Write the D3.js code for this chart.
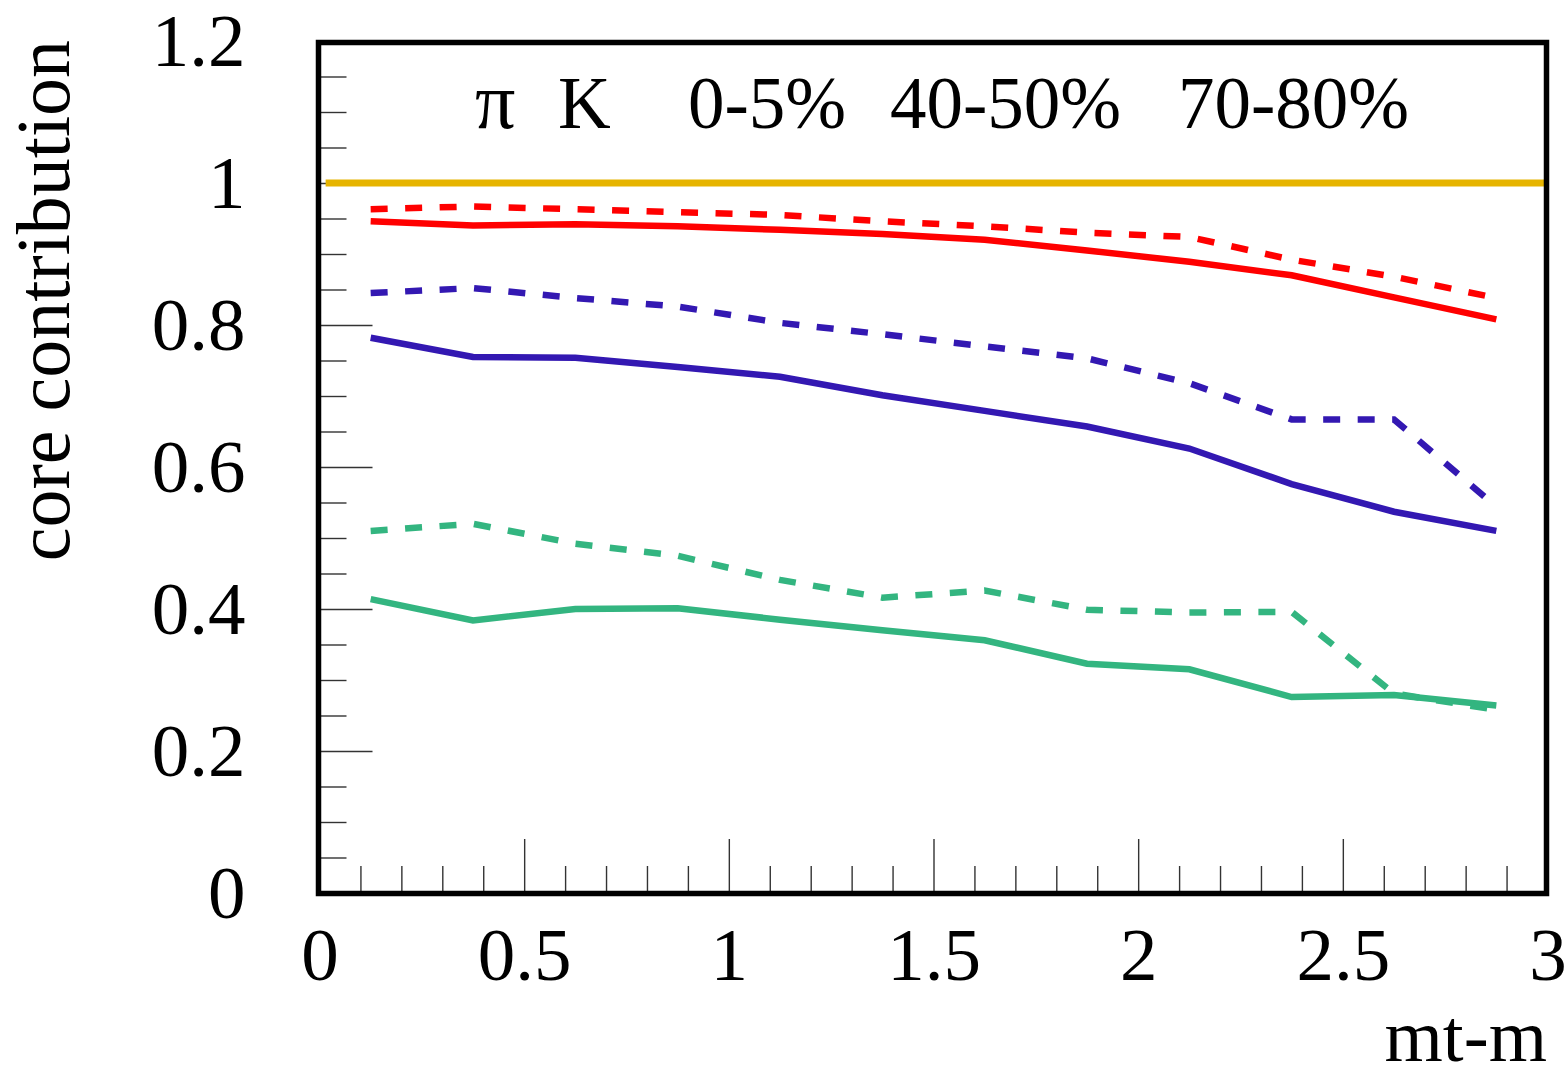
<!DOCTYPE html>
<html>
<head>
<meta charset="utf-8">
<script src="https://cdn.jsdelivr.net/npm/d3@7"></script>
<style>
  body { margin: 0; background: #fff; }
  svg { display: block; font-family: "Liberation Serif", "Times New Roman", serif; }
</style>
</head>
<body>
<div class="chart"></div>
<script>
"use strict";

// bin centres in mt-m
const mtm = [0.125, 0.375, 0.625, 0.875, 1.125, 1.375, 1.625, 1.875, 2.125, 2.375, 2.625, 2.875];

// solid = pi, dashed = K
const central = [0.946, 0.940, 0.942, 0.939, 0.934, 0.928, 0.920, 0.905, 0.889, 0.870, 0.839, 0.808];
const centralK = [0.963, 0.967, 0.963, 0.959, 0.955, 0.946, 0.939, 0.930, 0.924, 0.892, 0.868, 0.838];
const midCentral = [0.782, 0.755, 0.754, 0.741, 0.727, 0.701, 0.679, 0.657, 0.626, 0.576, 0.537, 0.510];
const midCentralK = [0.845, 0.852, 0.838, 0.826, 0.803, 0.787, 0.770, 0.753, 0.718, 0.667, 0.667, 0.544];
const peripheral = [0.414, 0.384, 0.400, 0.401, 0.385, 0.370, 0.356, 0.323, 0.315, 0.276, 0.279, 0.264];
const peripheralK = [0.510, 0.520, 0.492, 0.475, 0.441, 0.416, 0.426, 0.399, 0.395, 0.396, 0.281, 0.258];

// reference line at 1
const refY = 1;
const refX = [0.015, 3];

const xMajor = [0, 0.5, 1, 1.5, 2, 2.5, 3];
const yMajor = [0, 0.2, 0.4, 0.6, 0.8, 1, 1.2];

const titleParts = ["π", "K", "0-5%", "40-50%", "70-80%"];
const titleX = [475, 558, 688, 890, 1178];

const series = [
  { values: central, color: "#ff0000", dashed: false },
  { values: centralK, color: "#ff0000", dashed: true },
  { values: midCentral, color: "#3318b2", dashed: false },
  { values: midCentralK, color: "#3318b2", dashed: true },
  { values: peripheral, color: "#33b580", dashed: false },
  { values: peripheralK, color: "#33b580", dashed: true },
];

const width = 1567;
const height = 1077;

const svg = d3
  .select(".chart")
  .append("svg")
  .attr("width", width)
  .attr("height", height);

const x = d3.scaleLinear().domain([0, 3]).range([319.5, 1547.5]);
const y = d3.scaleLinear().domain([0, 1.2]).range([893, 41]);

const onGrid = (v, step) => Math.abs(v / step - Math.round(v / step)) < 1e-6;
const xMinor = d3.range(0, 3.0001, 0.1).filter((v) => !onGrid(v, 0.5));
const yMinor = d3.range(0, 1.2001, 0.05).filter((v) => !onGrid(v, 0.2));

// minor ticks first
svg
  .append("g")
  .attr("transform", `translate(0, ${y(0)})`)
  .call(d3.axisBottom(x).tickValues(xMinor).tickSizeInner(-27).tickSizeOuter(0).tickFormat(""))
  .call((g) => g.select(".domain").remove());

svg
  .append("g")
  .attr("transform", `translate(${x(0)}, 0)`)
  .call(d3.axisLeft(y).tickValues(yMinor).tickSizeInner(-27).tickSizeOuter(0).tickFormat(""))
  .call((g) => g.select(".domain").remove());

// major ticks and labels
svg
  .append("g")
  .attr("transform", `translate(0, ${y(0)})`)
  .call(
    d3.axisBottom(x).tickValues(xMajor).tickSizeInner(-54).tickSizeOuter(0).tickPadding(34).tickFormat(d3.format("~g"))
  )
  .call((g) => g.select(".domain").remove());

svg
  .append("g")
  .attr("transform", `translate(${x(0)}, 0)`)
  .call(
    d3.axisLeft(y).tickValues(yMajor).tickSizeInner(-53).tickSizeOuter(0).tickPadding(74).tickFormat(d3.format("~g"))
  )
  .call((g) => g.select(".domain").remove());

svg.selectAll(".tick line").attr("stroke", "#333").attr("stroke-width", 1.4);
svg
  .selectAll(".tick text")
  .attr("font-family", "Liberation Serif, serif")
  .attr("font-size", 75)
  .attr("fill", "#000");

// reference line
svg
  .append("line")
  .attr("x1", x(refX[0]))
  .attr("x2", x(refX[1]))
  .attr("y1", y(refY))
  .attr("y2", y(refY))
  .attr("stroke", "#e6b400")
  .attr("stroke-width", 7);

const line = d3
  .line()
  .x((d, i) => x(mtm[i]))
  .y((d) => y(d));

svg
  .append("g")
  .selectAll("path")
  .data(series)
  .join("path")
  .attr("fill", "none")
  .attr("stroke", (d) => d.color)
  .attr("stroke-width", 6.5)
  .attr("stroke-dasharray", (d) => (d.dashed ? "17,17.5" : null))
  .attr("d", (d) => line(d.values));

// frame
svg
  .append("rect")
  .attr("x", x(0) - 1)
  .attr("y", y(1.2) + 1.5)
  .attr("width", x(3) - x(0))
  .attr("height", y(0) - y(1.2) - 1)
  .attr("fill", "none")
  .attr("stroke", "#000")
  .attr("stroke-width", 5.5);

// title
svg
  .append("g")
  .attr("font-size", 73)
  .selectAll("text")
  .data(titleParts)
  .join("text")
  .attr("x", (d, i) => titleX[i])
  .attr("y", 128)
  .attr("font-size", (d, i) => (i === 0 ? 80 : null))
  .text((d) => d);

// axis titles
svg
  .append("text")
  .attr("x", 1547)
  .attr("y", 1061)
  .attr("text-anchor", "end")
  .attr("font-size", 75)
  .text("mt-m");

svg
  .append("text")
  .attr("transform", "translate(69, 40) rotate(-90)")
  .attr("text-anchor", "end")
  .attr("font-size", 76)
  .text("core contribution");
</script>
</body>
</html>
